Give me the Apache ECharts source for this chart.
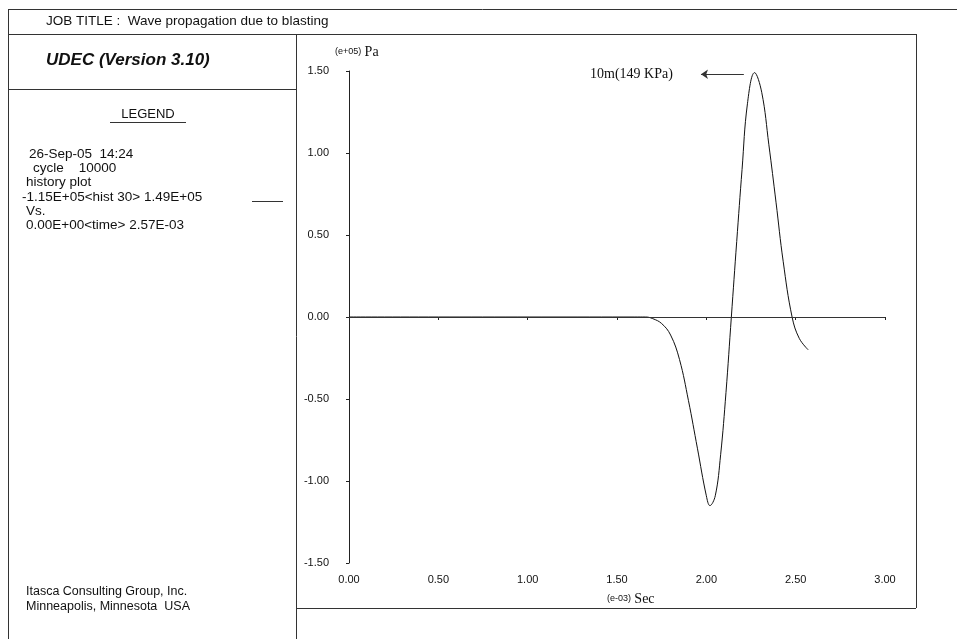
<!DOCTYPE html>
<html>
<head>
<meta charset="utf-8">
<script src="https://cdn.jsdelivr.net/npm/echarts@6/dist/echarts.min.js"></script>
<style>
  html, body { margin: 0; padding: 0; background: #fff; }
  #main { width: 957px; height: 639px; }
</style>
</head>
<body>
<div id="main"></div>
<script>
var myChart = echarts.init(document.getElementById('main'));

// time in (e-03) Sec, pressure in (e+05) Pa
var time = [0, 1.60, 1.66, 1.70, 1.75, 1.80, 1.85, 1.90, 1.95, 2.00, 2.02, 2.05, 2.08, 2.11, 2.14,
            2.17, 2.20, 2.23, 2.27, 2.31, 2.35, 2.39, 2.43, 2.48, 2.52, 2.57];
var pressure = [0, 0, 0, -0.01, -0.04, -0.11, -0.26, -0.51, -0.80, -1.09, -1.15, -1.09, -0.84, -0.46, 0,
                0.46, 0.90, 1.30, 1.49, 1.37, 1.05, 0.70, 0.34, 0, -0.13, -0.20];

var legendLines = ['26-Sep-05  14:24', 'cycle    10000', 'history plot',
                   '-1.15E+05<hist 30> 1.49E+05', 'Vs.', '0.00E+00<time> 2.57E-03'];
var legendIndent = [29, 33, 26, 22, 26, 26];

var points = time.map(function (t, i) { return [t, pressure[i]]; });

var frame = '#333';
var sans = 'Liberation Sans, Arial, sans-serif';
var serif = 'Liberation Serif, Times New Roman, serif';

function hline(x1, x2, y) {
    return { type: 'line', shape: { x1: x1, y1: y, x2: x2, y2: y }, style: { stroke: frame, lineWidth: 1 }, silent: true };
}
function vline(x, y1, y2) {
    return { type: 'line', shape: { x1: x, y1: y1, x2: x, y2: y2 }, style: { stroke: frame, lineWidth: 1 }, silent: true };
}
function txt(x, y, text, size, extra) {
    var style = { x: x, y: y, text: text, fill: '#111', font: size + 'px ' + sans, verticalAlign: 'middle' };
    for (var k in extra) style[k] = extra[k];
    return { type: 'text', style: style, silent: true };
}

var graphics = [
    hline(8, 957, 9.5), vline(8.5, 9, 639), hline(8, 916, 34.5), vline(296.5, 34, 639),
    vline(916.5, 34, 608), hline(296, 916, 608.5), hline(8, 296, 89.5),
    txt(46, 21, 'JOB TITLE :  Wave propagation due to blasting', 13.5),
    txt(46, 60, 'UDEC (Version 3.10)', 17, { font: 'italic bold 17px ' + sans }),
    txt(148, 114, 'LEGEND', 13, { align: 'center' }),
    hline(110, 186, 122.5),
    hline(252, 283, 201.5),
    txt(26, 592, 'Itasca Consulting Group, Inc.', 12.5),
    txt(26, 607, 'Minneapolis, Minnesota  USA', 12.5),
    {
        type: 'text', silent: true,
        style: {
            x: 335, y: 52, verticalAlign: 'middle',
            text: '{a|(e+05)} {b|Pa}',
            rich: { a: { font: '9px ' + sans, fill: '#111' }, b: { font: '14px ' + serif, fill: '#111' } }
        }
    },
    {
        type: 'text', silent: true,
        style: {
            x: 607, y: 599, verticalAlign: 'middle',
            text: '{a|(e-03)} {b|Sec}',
            rich: { a: { font: '9px ' + sans, fill: '#111' }, b: { font: '14px ' + serif, fill: '#111' } }
        }
    },
    txt(590, 74, '10m(149 KPa)', 14, { font: '14px ' + serif })
];
legendLines.forEach(function (s, i) {
    graphics.push(txt(legendIndent[i], 154 + i * 14.3, s, 13.5));
});

var option = {
    backgroundColor: '#fff',
    animation: false,
    grid: { left: 349, right: 72, top: 71, bottom: 76 },
    xAxis: {
        type: 'value', min: 0, max: 3, interval: 0.5,
        axisLine: { lineStyle: { color: '#222', width: 1 } },
        axisTick: { length: 3, lineStyle: { color: '#222' } },
        splitLine: { show: false },
        axisLabel: { margin: 11, fontSize: 11, fontFamily: sans, color: '#111', formatter: function (v) { return v.toFixed(2); } }
    },
    yAxis: {
        type: 'value', min: -1.5, max: 1.5, interval: 0.5,
        axisLine: { show: true, lineStyle: { color: '#222', width: 1 } },
        axisTick: { show: true, length: 3, lineStyle: { color: '#222' } },
        splitLine: { show: false },
        axisLabel: { margin: 20, fontSize: 11, fontFamily: sans, color: '#111', formatter: function (v) { return v.toFixed(2); } }
    },
    graphic: graphics,
    series: [{
        type: 'line',
        data: points,
        showSymbol: false,
        smooth: 0.4,
        lineStyle: { color: '#111', width: 1 },
        markLine: {
            silent: true,
            symbol: ['none', 'none'],
            label: { show: false },
            lineStyle: { color: '#333', width: 1, type: 'solid' },
            data: [
                { yAxis: 0 },
                [{ coord: [2.21, 1.48] }, { coord: [1.97, 1.48], symbol: 'arrow', symbolSize: 7 }]
            ]
        }
    }]
};

myChart.setOption(option);
</script>
</body>
</html>
